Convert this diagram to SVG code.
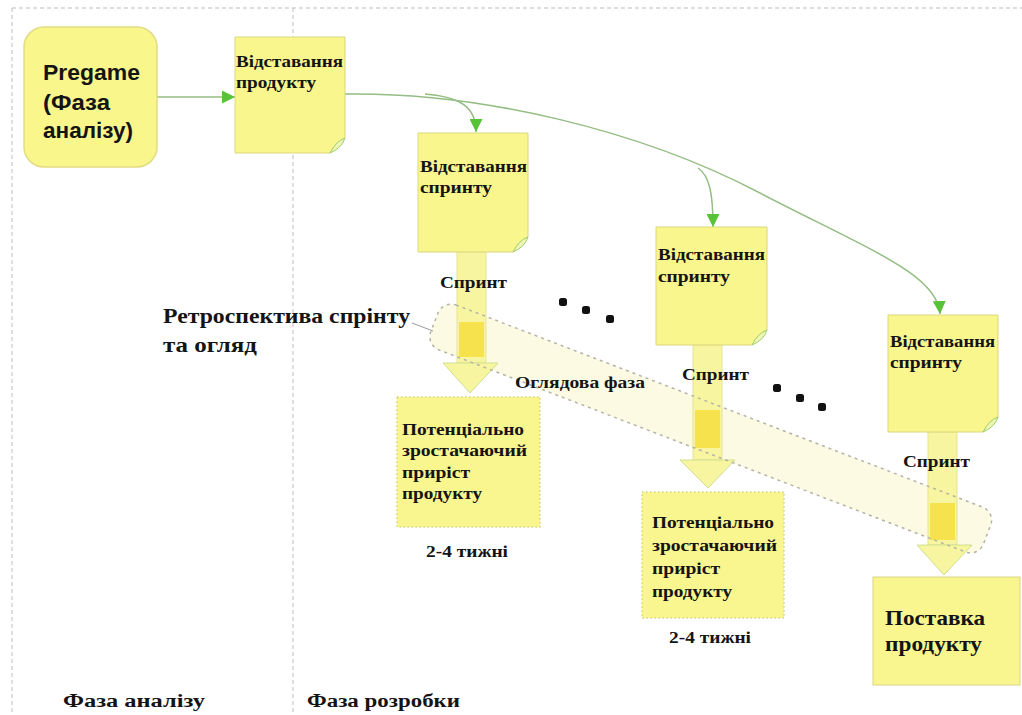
<svg xmlns="http://www.w3.org/2000/svg" width="1022" height="715" viewBox="0 0 1022 715">
<defs>
<style>
.bg{fill:#ffffff}
.guide{fill:none;stroke:#bdbdbd;stroke-width:1;stroke-dasharray:4,3}
.note{fill:#f9f68e;stroke:#dcd77c;stroke-width:1}
.fold{fill:#eef6b4;stroke:#9fcd6c;stroke-width:1}
.pre{fill:#f9f68c;stroke:#e2dc82;stroke-width:1.5}
.inc{fill:#f9f690;stroke:#d6d27a;stroke-width:1.5;stroke-dasharray:1.5,2.5}
.del{fill:#f9f690;stroke:#d9d682;stroke-width:1}
.shaft{fill:#f8f5a0;stroke:#e6e394;stroke-width:1}
.head{fill:#f8f5a0;stroke:#cfe08c;stroke-width:1}
.core{fill:#f6e24c}
.flow{fill:none;stroke:#93bd82;stroke-width:1.5}
.bandfill{fill:#fbf9dc;fill-opacity:0.8;stroke:none}
.bandline{fill:none;stroke:#b3b3a6;stroke-width:1.5;stroke-dasharray:3,4}
.t{font-family:"Liberation Serif","Times New Roman",serif;font-weight:bold;fill:#141414}
.s{font-family:"Liberation Sans",Arial,sans-serif;font-weight:bold;fill:#141414}
.dot{fill:#111}
</style>
<marker id="ah" viewBox="0 0 10 10" refX="10" refY="5" markerWidth="13" markerHeight="13" markerUnits="userSpaceOnUse" orient="auto">
<path d="M0,0 L10,5 L0,10 Z" fill="#58c238"/>
</marker>
</defs>
<rect class="bg" x="0" y="0" width="1022" height="715"/>
<g id="guides">
<line class="guide" x1="12" y1="8" x2="1022" y2="8"/>
<line class="guide" x1="12" y1="8" x2="12" y2="715"/>
<line class="guide" x1="293" y1="8" x2="293" y2="715"/>
</g>
<g id="review-band-fill">
<rect class="bandfill" x="0" y="0" width="592" height="48" rx="14" transform="translate(443,300) rotate(21)"/>
</g>
<g id="connectors">
<path class="flow" d="M157,97 H235" marker-end="url(#ah)"/>
<path class="flow" d="M345,94 C480,92 640,130 760,193 C870,250 938,275 940,314" marker-end="url(#ah)"/>
<path class="flow" d="M425,94 C462,97 476,108 476,132" marker-end="url(#ah)"/>
<path class="flow" d="M698,168 C710,176 713,195 713,227" marker-end="url(#ah)"/>
<line x1="412" y1="323" x2="433" y2="331" stroke="#9a9a9a" stroke-width="1"/>
</g>
<g id="pregame">
<rect class="pre" x="24" y="27" width="133" height="140" rx="20"/>
<text class="s" font-size="22" x="43" y="80" textLength="97" lengthAdjust="spacingAndGlyphs">Pregame</text>
<text class="s" font-size="22" x="43" y="110" textLength="67" lengthAdjust="spacingAndGlyphs">(Фаза</text>
<text class="s" font-size="22" x="43" y="138" textLength="90" lengthAdjust="spacingAndGlyphs">аналізу)</text>
</g>
<g id="product-backlog">
<path class="note" d="M235,37 H345 V138 L330,153 H235 Z"/>
<path class="fold" d="M345,138 Q336,141 330,153 Q342,148 345,138 Z"/>
<text class="t" font-size="17" x="236" y="67" textLength="107" lengthAdjust="spacingAndGlyphs">Відставання</text>
<text class="t" font-size="17" x="236" y="88" textLength="80" lengthAdjust="spacingAndGlyphs">продукту</text>
</g>
<g id="sprint-1">
<rect class="shaft" x="457" y="252" width="29" height="111"/>
<rect class="core" x="459" y="322" width="25" height="35"/>
<polygon class="head" points="443,363 498,363 470,393"/>
</g>
<g id="sprint-2">
<rect class="shaft" x="693" y="345" width="29" height="115"/>
<rect class="core" x="695" y="410" width="25" height="38"/>
<polygon class="head" points="680,460 735,460 708,488"/>
</g>
<g id="sprint-3">
<rect class="shaft" x="928" y="432" width="29" height="113"/>
<rect class="core" x="930" y="503" width="25" height="37"/>
<polygon class="head" points="917,545 972,545 944,575"/>
</g>
<g id="sprint-backlog-1">
<path class="note" d="M418,133 H528 V237 L513,252 H418 Z"/>
<path class="fold" d="M528,237 Q519,240 513,252 Q525,247 528,237 Z"/>
<text class="t" font-size="17" x="420" y="172" textLength="107" lengthAdjust="spacingAndGlyphs">Відставання</text>
<text class="t" font-size="17" x="420" y="193" textLength="72" lengthAdjust="spacingAndGlyphs">спринту</text>
</g>
<g id="sprint-backlog-2">
<path class="note" d="M656,227 H767 V330 L752,345 H656 Z"/>
<path class="fold" d="M767,330 Q758,333 752,345 Q764,340 767,330 Z"/>
<text class="t" font-size="17" x="658" y="260" textLength="107" lengthAdjust="spacingAndGlyphs">Відставання</text>
<text class="t" font-size="17" x="658" y="282" textLength="72" lengthAdjust="spacingAndGlyphs">спринту</text>
</g>
<g id="sprint-backlog-3">
<path class="note" d="M888,315 H998 V417 L983,432 H888 Z"/>
<path class="fold" d="M998,417 Q989,420 983,432 Q995,427 998,417 Z"/>
<text class="t" font-size="17" x="890" y="347" textLength="105" lengthAdjust="spacingAndGlyphs">Відставання</text>
<text class="t" font-size="17" x="890" y="368" textLength="72" lengthAdjust="spacingAndGlyphs">спринту</text>
</g>
<g id="increment-1">
<rect class="inc" x="397" y="397" width="143" height="130"/>
<text class="t" font-size="16" x="402" y="435" textLength="122" lengthAdjust="spacingAndGlyphs">Потенціально</text>
<text class="t" font-size="16" x="402" y="456" textLength="125" lengthAdjust="spacingAndGlyphs">зростачаючий</text>
<text class="t" font-size="16" x="402" y="478" textLength="68" lengthAdjust="spacingAndGlyphs">приріст</text>
<text class="t" font-size="16" x="402" y="499" textLength="80" lengthAdjust="spacingAndGlyphs">продукту</text>
<text class="t" font-size="16" x="426" y="557" textLength="82" lengthAdjust="spacingAndGlyphs">2-4 тижні</text>
</g>
<g id="increment-2">
<rect class="inc" x="642" y="492" width="142" height="126"/>
<text class="t" font-size="16" x="652" y="528" textLength="122" lengthAdjust="spacingAndGlyphs">Потенціально</text>
<text class="t" font-size="16" x="652" y="551" textLength="125" lengthAdjust="spacingAndGlyphs">зростачаючий</text>
<text class="t" font-size="16" x="652" y="574" textLength="68" lengthAdjust="spacingAndGlyphs">приріст</text>
<text class="t" font-size="16" x="652" y="597" textLength="80" lengthAdjust="spacingAndGlyphs">продукту</text>
<text class="t" font-size="16" x="669" y="643" textLength="82" lengthAdjust="spacingAndGlyphs">2-4 тижні</text>
</g>
<g id="delivery">
<rect class="del" x="873" y="577" width="147" height="108"/>
<text class="t" font-size="21" x="885" y="625" textLength="100" lengthAdjust="spacingAndGlyphs">Поставка</text>
<text class="t" font-size="21" x="885" y="651" textLength="97" lengthAdjust="spacingAndGlyphs">продукту</text>
</g>
<g id="review-band">
<rect class="bandline" x="0" y="0" width="592" height="48" rx="14" transform="translate(443,300) rotate(21)"/>
<text class="t" font-size="16" x="515" y="388" textLength="130" lengthAdjust="spacingAndGlyphs">Оглядова фаза</text>
</g>
<g id="sprint-labels">
<text class="t" font-size="16" x="440" y="288" textLength="67" lengthAdjust="spacingAndGlyphs">Спринт</text>
<text class="t" font-size="16" x="682" y="380" textLength="67" lengthAdjust="spacingAndGlyphs">Спринт</text>
<text class="t" font-size="16" x="903" y="467" textLength="67" lengthAdjust="spacingAndGlyphs">Спринт</text>
</g>
<g id="retrospective">
<text class="t" font-size="21" x="163" y="323" textLength="247" lengthAdjust="spacingAndGlyphs">Ретроспектива спрінту</text>
<text class="t" font-size="21" x="163" y="352" textLength="94" lengthAdjust="spacingAndGlyphs">та огляд</text>
</g>
<g id="ellipsis">
<rect class="dot" x="559" y="298" width="8" height="8" rx="2.5"/>
<rect class="dot" x="582" y="306" width="8" height="8" rx="2.5"/>
<rect class="dot" x="606" y="315" width="8" height="8" rx="2.5"/>
<rect class="dot" x="773" y="384" width="8" height="8" rx="2.5"/>
<rect class="dot" x="796" y="394" width="8" height="8" rx="2.5"/>
<rect class="dot" x="818" y="403" width="8" height="8" rx="2.5"/>
</g>
<g id="phases">
<text class="t" font-size="18" x="63" y="707" textLength="142" lengthAdjust="spacingAndGlyphs">Фаза аналізу</text>
<text class="t" font-size="18" x="307" y="707" textLength="153" lengthAdjust="spacingAndGlyphs">Фаза розробки</text>
</g>
</svg>
